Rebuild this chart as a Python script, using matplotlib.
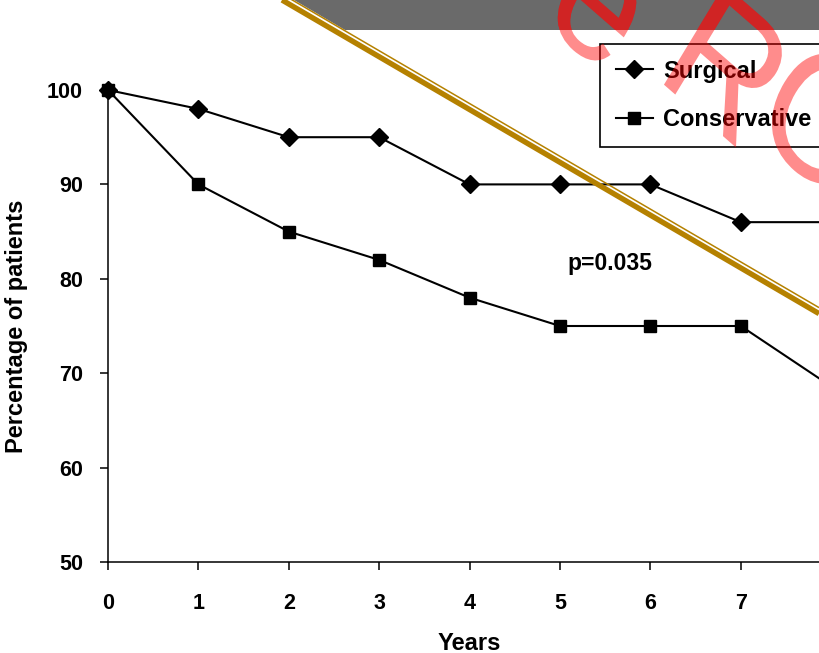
import matplotlib.pyplot as plt
from matplotlib.lines import Line2D
from matplotlib.patches import Polygon, PathPatch
from matplotlib.textpath import TextPath
from matplotlib.font_manager import FontProperties
from matplotlib.transforms import Affine2D, IdentityTransform, Bbox, TransformedBbox

years = [0, 1, 2, 3, 4, 5, 6, 7, 8]
surgical = [100, 98, 95, 95, 90, 90, 90, 86, 86]
conservative = [100, 90, 85, 82, 78, 75, 75, 75, 68.6]
series_names = ['Surgical', 'Conservative']
x_ticks = [0, 1, 2, 3, 4, 5, 6, 7]
y_ticks = [50, 60, 70, 80, 90, 100]
p_text = 'p=0.035'
stamp_parts = ['e', 'R', 'O']

W, H = 819, 653
plt.rcParams['font.family'] = ['Liberation Sans', 'DejaVu Sans']
plt.rcParams['font.weight'] = 'bold'

fig = plt.figure(figsize=(W / 100, H / 100), dpi=100)


def px(x, y):
    # pixel position (top-left origin) -> figure fraction
    return (x / W, 1 - y / H)


# axes: x=0 at 108px, 1 year = 90.4px, y 100 at 90px, 50 at 562px
# (the figure is cropped, so the axes run past the right edge)
left, bottom = px(108, 562)
_, top = px(0, 90)
ax = fig.add_axes([left, bottom, 8 * 90.4 / W, top - bottom])

ax.plot(years, surgical, color='black', lw=1.5, marker='D', ms=9,
        clip_on=False, label=series_names[0], zorder=3)
ax.plot(years, conservative, color='black', lw=1.5, marker='s', ms=8.5,
        clip_on=False, label=series_names[1], zorder=3)

ax.set_xlim(0, 8)
ax.set_ylim(50, 100)
ax.set_xticks(x_ticks)
ax.set_yticks(y_ticks)
ax.spines['top'].set_visible(False)
ax.spines['right'].set_visible(False)
for s in ['left', 'bottom']:
    ax.spines[s].set_linewidth(1.1)
ax.tick_params(axis='both', length=6, width=1.1, labelsize=15.5)
ax.tick_params(axis='x', pad=16)
ax.tick_params(axis='y', pad=12)
ax.set_xlabel('Years', fontsize=17, fontweight='bold', labelpad=13)
ax.set_ylabel('Percentage of patients', fontsize=17, fontweight='bold', labelpad=14)

ax.text(5.55, 81.6, p_text, fontsize=16.5, fontweight='bold', ha='center', va='center')

leg = fig.legend(loc='upper left', bbox_to_anchor=px(600, 44), fontsize=17,
                 frameon=True, fancybox=False, edgecolor='black', framealpha=1,
                 handlelength=1.6, handletextpad=0.4, labelspacing=1.08,
                 borderpad=0.66, borderaxespad=0)
leg.get_frame().set_linewidth(1.2)

# grey banner and gold double line across the top
slope = 0.584
band = Polygon([px(294, 0), px(W, 0), px(W, 30), px(294 + 30 / slope, 30)],
               closed=True, transform=fig.transFigure, facecolor='#6a6a6a',
               edgecolor='none', zorder=5)
fig.add_artist(band)
gold = '#b58100'
fig.add_artist(Line2D(*zip(px(282, 0), px(W, 537 * slope)), transform=fig.transFigure,
                      color=gold, lw=3.9, zorder=6, solid_capstyle='butt'))
fig.add_artist(Line2D(*zip(px(282, -6), px(W, 537 * slope - 6)), transform=fig.transFigure,
                      color=gold, lw=1.1, zorder=6, solid_capstyle='butt'))

# red watermark stamp: rotated, slightly stretched vertically, darker over the banner
fp = FontProperties(family='Liberation Sans', weight='normal')
clip = TransformedBbox(Bbox([[0, 1 - 30 / H], [1, 1]]), fig.transFigure)
for part, (ox, oy) in zip(stamp_parts, [(540, 19), (654, 76), (748, 128)]):
    path = TextPath((0, 0), part, size=150, prop=fp)
    tr = Affine2D().rotate_deg(-36).scale(1, 1.2).translate(ox, H - oy) + IdentityTransform()
    fig.add_artist(PathPatch(path, transform=tr, facecolor='#ff0000', alpha=0.45,
                             edgecolor='none', zorder=10))
    dark = PathPatch(path, transform=tr, facecolor='#d02424', edgecolor='none', zorder=11)
    dark.set_clip_box(clip)
    fig.add_artist(dark)

fig.savefig('out.png', dpi=100)
